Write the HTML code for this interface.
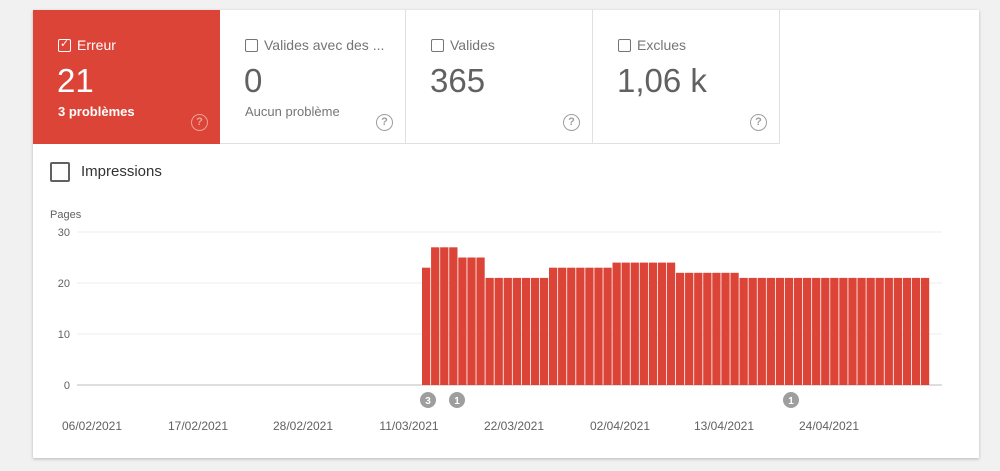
<!DOCTYPE html><html><head><style>
body{margin:0;background:#f1f1f1;font-family:"Liberation Sans",sans-serif;width:1000px;height:471px;overflow:hidden;position:relative}
.card{position:absolute;left:33px;top:10px;width:946px;height:448px;background:#fff;box-shadow:0 1px 3px rgba(0,0,0,.25)}
.t{position:absolute;top:0;height:134px;width:186px;border-right:1px solid #e0e0e0;border-bottom:1px solid #e0e0e0;box-sizing:border-box}
.lab{position:absolute;left:25px;top:27px;font-size:14px;color:#757575}
.cb{display:inline-block;width:11px;height:11px;border:1.5px solid #757575;border-radius:2px;vertical-align:-2px;margin-right:6px}
.num{position:absolute;left:24px;top:52px;font-size:33px;color:#616161}
.sub{position:absolute;left:25px;top:94px;font-size:13px;color:#757575}
.q{position:absolute;right:12px;top:104px;width:15px;height:15px;border:1.5px solid #9e9e9e;border-radius:50%;font-size:11px;text-align:center;line-height:15px;color:#9e9e9e;font-weight:bold}
.red{background:#db4437;border:none}
.red .lab,.red .num,.red .sub{color:#fff}.red .cb{border-color:#fff}.red .q{border-color:#f0a099;color:#f0a099}
</style></head><body>
<div class="card">
<div class="t red" style="left:0;width:187px"><div class="lab"><span class="cb" style="position:relative"><span style="position:absolute;left:1px;top:-3px;font-size:11px">✓</span></span>Erreur</div><div class="num">21</div><div class="sub" style="font-weight:bold">3 problèmes</div><div class="q">?</div></div>
<div class="t" style="left:187px"><div class="lab"><span class="cb"></span>Valides avec des ...</div><div class="num">0</div><div class="sub">Aucun problème</div><div class="q">?</div></div>
<div class="t" style="left:373px;width:187px"><div class="lab"><span class="cb"></span>Valides</div><div class="num">365</div><div class="q">?</div></div>
<div class="t" style="left:560px;width:187px"><div class="lab"><span class="cb"></span>Exclues</div><div class="num">1,06 k</div><div class="q">?</div></div>
</div>
<div style="position:absolute;left:50px;top:162px;width:16px;height:16px;border:2px solid #616161;border-radius:2px"></div>
<div style="position:absolute;left:81px;top:163px;font-size:15px;color:#333">Impressions</div>
<svg style="position:absolute;left:0;top:0" width="1000" height="471" font-family="Liberation Sans" font-size="11" fill="#616161">
<text x="50" y="218">Pages</text>
<g stroke="#ececec"><line x1="77" x2="942" y1="232" y2="232"/><line x1="77" x2="942" y1="283" y2="283"/><line x1="77" x2="942" y1="334" y2="334"/></g>
<line x1="77" x2="942" y1="385" y2="385" stroke="#bdbdbd"/>
<g text-anchor="end"><text x="70" y="236">30</text><text x="70" y="287">20</text><text x="70" y="338">10</text><text x="70" y="389">0</text></g>
<g id="b" fill="#db4437"></g>
<g fill="#9e9e9e"><circle cx="428" cy="400" r="8"/><circle cx="457" cy="400" r="8"/><circle cx="791" cy="400" r="8"/></g>
<g fill="#fff" font-size="10" font-weight="bold" text-anchor="middle"><text x="428" y="404">3</text><text x="457" y="404">1</text><text x="791" y="404">1</text></g>
<g text-anchor="middle" font-size="12"><text x="92" y="430">06/02/2021</text><text x="198" y="430">17/02/2021</text><text x="303" y="430">28/02/2021</text><text x="409" y="430">11/03/2021</text><text x="514" y="430">22/03/2021</text><text x="620" y="430">02/04/2021</text><text x="724" y="430">13/04/2021</text><text x="829" y="430">24/04/2021</text></g>
</svg>
<script>
var v=[23,27,27,27,25,25,25];[[21,7],[23,7],[24,7],[22,7],[21,21]].forEach(function(p){for(var i=0;i<p[1];i++)v.push(p[0])});
var g=document.getElementById('b'),w=508/v.length,s='';
v.forEach(function(d,i){var h=d*5.1;s+='<rect x="'+(422+i*w).toFixed(2)+'" y="'+(385-h)+'" width="'+(w-0.8).toFixed(2)+'" height="'+h+'"/>'});
g.innerHTML=s;
</script>
</body></html>
